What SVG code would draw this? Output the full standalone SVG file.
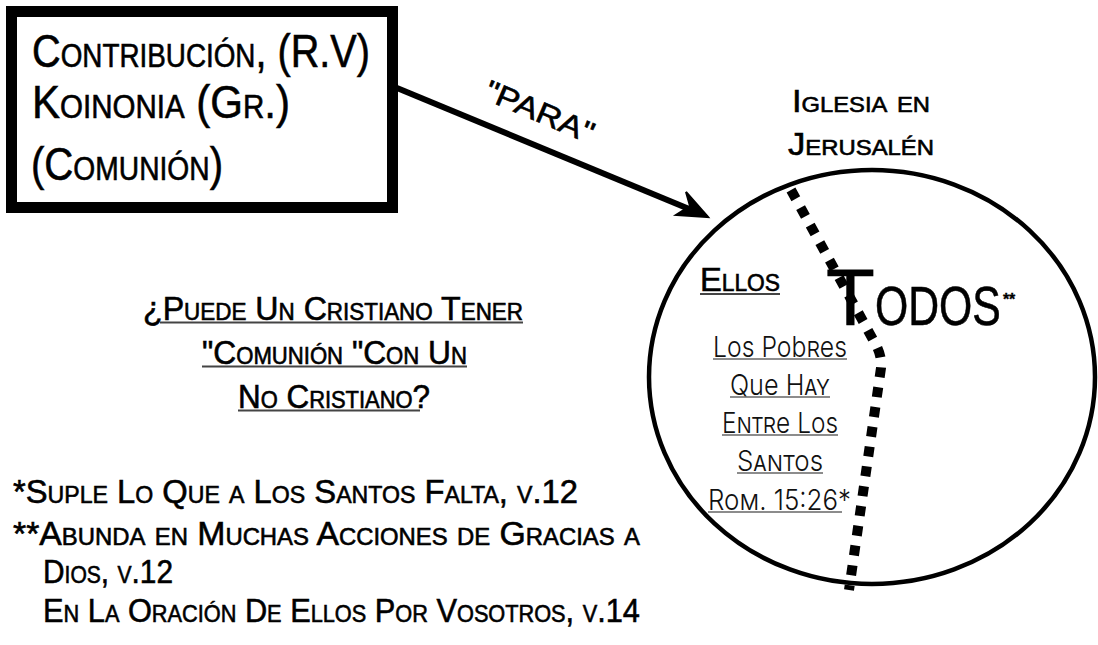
<svg xmlns="http://www.w3.org/2000/svg" width="1098" height="645" viewBox="0 0 1098 645">
<style>
  .sc { font-family: "Liberation Sans", Arial, sans-serif; font-variant: small-caps; fill: #000; stroke: #000; stroke-width: 0.6; }
  .thin { font-family: "Inter", "Liberation Sans", sans-serif; font-weight: 300; font-variant: small-caps; fill: #111; }
  .ul { stroke: #444; stroke-width: 2; }
  .ulthin { stroke: #666; stroke-width: 1.5; }
</style>
<rect width="1098" height="645" fill="#fff"/>

<g id="box">
  <rect x="11.5" y="11.5" width="381" height="196" fill="#fff" stroke="#000" stroke-width="11"/>
  <text class="sc" x="32" y="67" font-size="47" textLength="338" lengthAdjust="spacingAndGlyphs">Contribución, (R.V)</text>
  <text class="sc" x="32" y="118" font-size="47" textLength="258" lengthAdjust="spacingAndGlyphs">Koinonia (Gr.)</text>
  <text class="sc" x="31" y="180" font-size="47" textLength="192" lengthAdjust="spacingAndGlyphs">(Comunión)</text>
</g>

<g id="connectors">
  <line x1="397" y1="88" x2="700" y2="213.5" stroke="#000" stroke-width="6"/>
  <path d="M708,217 L686,192 L690,206 L676,215 Z" fill="#000" stroke="#000" stroke-width="2" stroke-linejoin="miter"/>
  <text class="sc" x="540" y="122" font-size="30" text-anchor="middle" textLength="116" lengthAdjust="spacingAndGlyphs" transform="rotate(23 540 111)">"PARA"</text>
</g>

<g id="church">
  <text class="sc" x="861" y="112" font-size="32" text-anchor="middle" textLength="138" lengthAdjust="spacingAndGlyphs">Iglesia en</text>
  <text class="sc" x="861" y="155" font-size="32" text-anchor="middle" textLength="146" lengthAdjust="spacingAndGlyphs">Jerusalén</text>
  <ellipse cx="872" cy="377" rx="223" ry="207" fill="none" stroke="#000" stroke-width="4.5"/>
  <path d="M791,190 L876,345 Q882,356 881,368 L849,590" fill="none" stroke="#000" stroke-width="10" stroke-dasharray="10 10"/>
</g>

<g id="ellos">
  <text class="sc" x="700" y="291" font-size="33" textLength="80" lengthAdjust="spacingAndGlyphs">Ellos</text>
  <line class="ul" x1="700" y1="294" x2="780" y2="294"/>
</g>

<g id="todos">
  <text class="sc" x="826" y="325" font-size="80">T<tspan font-size="80" textLength="126" lengthAdjust="spacingAndGlyphs">odos</tspan><tspan font-size="16" font-weight="bold" dx="2" dy="-20" stroke-width="0.3">**</tspan></text>
</g>

<g id="pobres">
  <text class="thin" x="780" y="357" font-size="29" text-anchor="middle" textLength="134" lengthAdjust="spacingAndGlyphs">Los Pobres</text>
  <line class="ulthin" x1="713" y1="359" x2="847" y2="359"/>
  <text class="thin" x="780" y="395" font-size="29" text-anchor="middle" textLength="100" lengthAdjust="spacingAndGlyphs">Que Hay</text>
  <line class="ulthin" x1="730" y1="397" x2="830" y2="397"/>
  <text class="thin" x="780" y="433" font-size="29" text-anchor="middle" textLength="116" lengthAdjust="spacingAndGlyphs">Entre Los</text>
  <line class="ulthin" x1="722" y1="435" x2="838" y2="435"/>
  <text class="thin" x="780" y="471" font-size="29" text-anchor="middle" textLength="86" lengthAdjust="spacingAndGlyphs">Santos</text>
  <line class="ulthin" x1="737" y1="473" x2="823" y2="473"/>
  <text class="thin" x="708" y="510" font-size="29" textLength="143" lengthAdjust="spacingAndGlyphs">Rom. 15:26*</text>
  <line class="ulthin" x1="708" y1="512" x2="842" y2="512"/>
</g>

<g id="question">
  <text class="sc" x="143" y="320" font-size="33" textLength="380" lengthAdjust="spacingAndGlyphs">¿Puede Un Cristiano Tener</text>
  <line class="ul" x1="160" y1="322.5" x2="523" y2="322.5"/>
  <text class="sc" x="202" y="364" font-size="33" textLength="265" lengthAdjust="spacingAndGlyphs">"Comunión "Con Un</text>
  <line class="ul" x1="202" y1="366.5" x2="467" y2="366.5"/>
  <text class="sc" x="238" y="408" font-size="33" textLength="192" lengthAdjust="spacingAndGlyphs">No Cristiano?</text>
  <line class="ul" x1="238" y1="410.5" x2="420" y2="410.5"/>
</g>

<g id="footnotes">
  <text class="sc" x="13" y="503" font-size="34" textLength="565" lengthAdjust="spacingAndGlyphs">*Suple Lo Que a Los Santos Falta, v.12</text>
  <text class="sc" x="13" y="545" font-size="34" textLength="627" lengthAdjust="spacingAndGlyphs">**Abunda en Muchas Acciones de Gracias a</text>
  <text class="sc" x="43" y="583" font-size="34" textLength="130" lengthAdjust="spacingAndGlyphs">Dios, v.12</text>
  <text class="sc" x="43" y="622" font-size="34" textLength="597" lengthAdjust="spacingAndGlyphs">En La Oración De Ellos Por Vosotros, v.14</text>
</g>
</svg>
